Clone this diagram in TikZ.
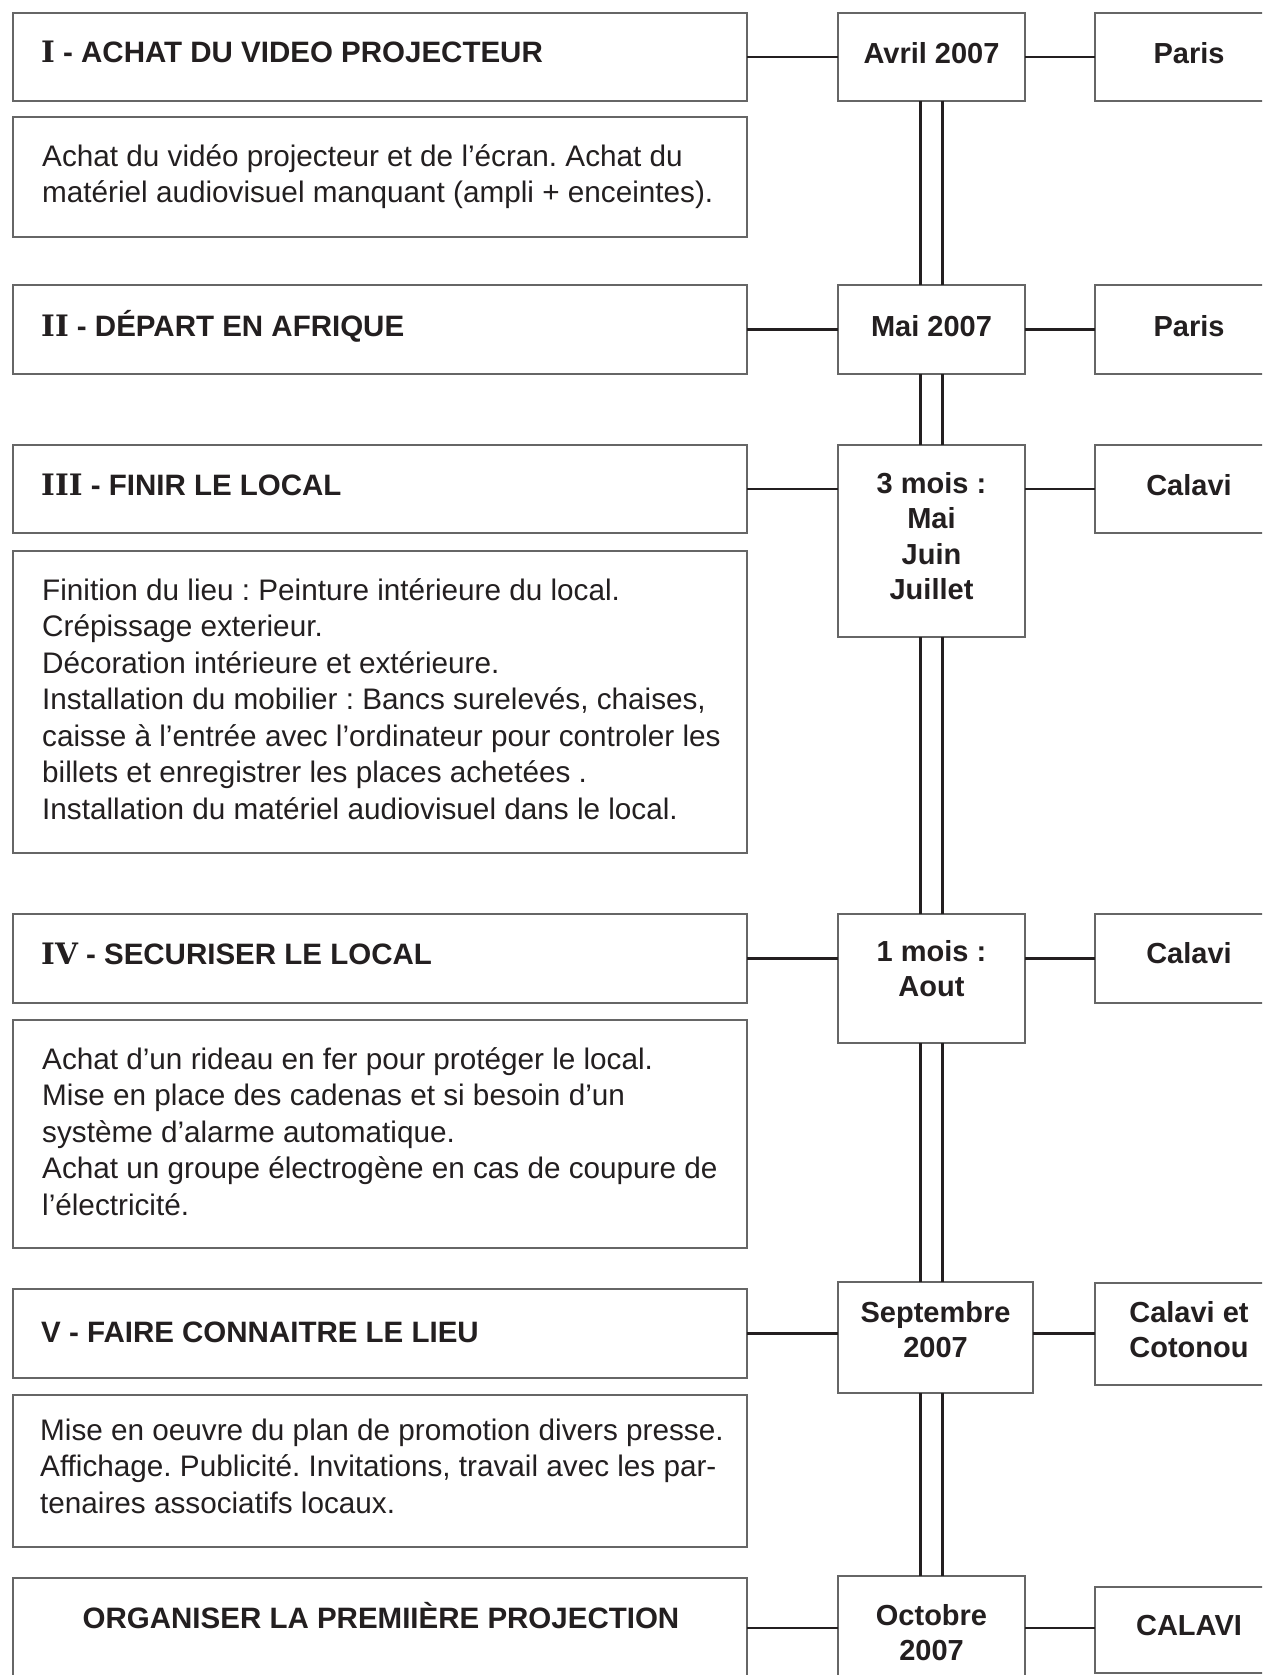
\documentclass[tikz,border=0pt]{standalone}
\usepackage{fontspec}
\setmainfont{Liberation Sans}
\newfontfamily\romanfont{DejaVu Serif}
\usetikzlibrary{calc}
\definecolor{ink}{HTML}{231F20}
\definecolor{boxgray}{HTML}{666666}
\newcommand{\rn}[1]{{\romanfont\bfseries #1}}
\newcommand{\fls}{\rule{0pt}{30pt}}
\frenchspacing
\begin{document}
\begin{tikzpicture}[x=1pt,y=-1pt,
  box/.style={draw=boxgray, line width=2.6pt, rectangle, inner sep=0pt, outer sep=0pt, anchor=north west},
  link/.style={draw=ink, line width=2.2pt},
  rail/.style={draw=ink, line width=2.2pt},
  headtext/.style={text=ink, font=\fontsize{29.5}{36}\selectfont\bfseries\frenchspacing, anchor=base west, inner sep=0pt},
  bodytext/.style={text=ink, font=\fontsize{29.7}{36.5}\selectfont\frenchspacing, anchor=north west, inner sep=0pt, align=left},
  datetext/.style={text=ink, font=\fontsize{29}{35.5}\selectfont\bfseries, anchor=north, inner sep=0pt, align=center},
]
\useasboundingbox (0,0) rectangle (1262,1675);
\clip (0,0) rectangle (1262,1675);
\fill[white] (0,0) rectangle (1262,1675);

% heading boxes
\node[box, minimum width=734pt, minimum height=88pt]  (h1) at (13,13) {};
\node[box, minimum width=734pt, minimum height=89pt]  (h2) at (13,285) {};
\node[box, minimum width=734pt, minimum height=88pt]  (h3) at (13,445) {};
\node[box, minimum width=734pt, minimum height=89pt]  (h4) at (13,914) {};
\node[box, minimum width=734pt, minimum height=89pt]  (h5) at (13,1289) {};
\node[box, minimum width=734pt, minimum height=100pt] (h6) at (13,1578) {};

% description boxes
\node[box, minimum width=734pt, minimum height=120pt] (b1) at (13,117) {};
\node[box, minimum width=734pt, minimum height=302pt] (b3) at (13,551) {};
\node[box, minimum width=734pt, minimum height=228pt] (b4) at (13,1020) {};
\node[box, minimum width=734pt, minimum height=152pt] (b5) at (13,1395) {};

% date boxes
\node[box, minimum width=187pt, minimum height=88pt]  (d1) at (838,13) {};
\node[box, minimum width=187pt, minimum height=89pt]  (d2) at (838,285) {};
\node[box, minimum width=187pt, minimum height=192pt] (d3) at (838,445) {};
\node[box, minimum width=187pt, minimum height=129pt] (d4) at (838,914) {};
\node[box, minimum width=195pt, minimum height=111pt] (d5) at (838,1282) {};
\node[box, minimum width=187pt, minimum height=104pt] (d6) at (838,1576) {};

% place boxes
\node[box, minimum width=188pt, minimum height=88pt]  (p1) at (1095,13) {};
\node[box, minimum width=188pt, minimum height=89pt]  (p2) at (1095,285) {};
\node[box, minimum width=188pt, minimum height=88pt]  (p3) at (1095,445) {};
\node[box, minimum width=188pt, minimum height=89pt]  (p4) at (1095,914) {};
\node[box, minimum width=188pt, minimum height=102pt] (p5) at (1095,1283) {};
\node[box, minimum width=188pt, minimum height=86pt]  (p6) at (1095,1587) {};

% heading texts
\node[headtext] (t1) at (41,63)   {\rn{I} - ACHAT DU VIDEO PROJECTEUR};
\node[headtext] (t2) at (41,336)  {\rn{II} - DÉPART EN AFRIQUE};
\node[headtext] (t3) at (41,495)  {\rn{III} - FINIR LE LOCAL};
\node[headtext] (t4) at (41,964)  {\rn{IV} - SECURISER LE LOCAL};
\node[headtext] (t5) at (41,1342) {V - FAIRE CONNAITRE LE LIEU};
\node[headtext, anchor=base] (t6) at (381,1628) {ORGANISER LA PREMIIÈRE PROJECTION};

% body texts
\node[bodytext] (bt1) at (42,136) {\fls Achat du vidéo projecteur et de l’écran. Achat du\\matériel audiovisuel manquant (ampli + enceintes).};
\node[bodytext] (bt3) at (42,570) {\fls Finition du lieu : Peinture intérieure du local.\\Crépissage exterieur.\\Décoration intérieure et extérieure.\\Installation du mobilier : Bancs surelevés, chaises,\\caisse à l’entrée avec l’ordinateur pour controler les\\billets et enregistrer les places achetées .\\Installation du matériel audiovisuel dans le local.};
\node[bodytext] (bt4) at (42,1039) {\fls Achat d’un rideau en fer pour protéger le local.\\Mise en place des cadenas et si besoin d’un\\système d’alarme automatique.\\Achat un groupe électrogène en cas de coupure de\\l’électricité.};
\node[bodytext] (bt5) at (40,1410) {\fls Mise en oeuvre du plan de promotion divers presse.\\Affichage. Publicité. Invitations, travail avec les par-\\tenaires associatifs locaux.};

% date texts
\node[datetext] (dt1) at (931.5,33)   {\fls Avril 2007};
\node[datetext] (dt2) at (931.5,306)  {\fls Mai 2007};
\node[datetext] (dt3) at (931.5,463)  {\fls 3 mois :\\Mai\\Juin\\Juillet};
\node[datetext] (dt4) at (931.5,931)  {\fls 1 mois :\\Aout};
\node[datetext] (dt5) at (935.5,1292) {\fls Septembre\\2007};
\node[datetext] (dt6) at (931.5,1595) {\fls Octobre\\2007};

% place texts
\node[datetext] (pt1) at (1189,33)   {\fls Paris};
\node[datetext] (pt2) at (1189,306)  {\fls Paris};
\node[datetext] (pt3) at (1189,465)  {\fls Calavi};
\node[datetext] (pt4) at (1189,933)  {\fls Calavi};
\node[datetext] (pt5) at (1189,1292) {\fls Calavi et\\Cotonou};
\node[datetext] (pt6) at (1189,1605) {\fls CALAVI};

% horizontal links
\draw[link] (h1.east) -- (h1.east -| d1.west);
\draw[link] (h1.east -| d1.east) -- (h1.east -| p1.west);
\draw[link] (h2.east) -- (h2.east -| d2.west);
\draw[link] (h2.east -| d2.east) -- (h2.east -| p2.west);
\draw[link] (h3.east) -- (h3.east -| d3.west);
\draw[link] (h3.east -| d3.east) -- (h3.east -| p3.west);
\draw[link] (h4.east) -- (h4.east -| d4.west);
\draw[link] (h4.east -| d4.east) -- (h4.east -| p4.west);
\draw[link] (h5.east) -- (h5.east -| d5.west);
\draw[link] (h5.east -| d5.east) -- (h5.east -| p5.west);
\draw[link] (h6.east) -- (h6.east -| d6.west);
\draw[link] (h6.east -| d6.east) -- (h6.east -| p6.west);

% double vertical rails
\foreach \a/\b in {d1/d2, d2/d3, d3/d4, d4/d5, d5/d6} {
  \draw[rail] ($(d1.south |- \a.south)+(-11,0)$) -- ($(d1.south |- \b.north)+(-11,0)$);
  \draw[rail] ($(d1.south |- \a.south)+(11,0)$) -- ($(d1.south |- \b.north)+(11,0)$);
}
\end{tikzpicture}
\end{document}
